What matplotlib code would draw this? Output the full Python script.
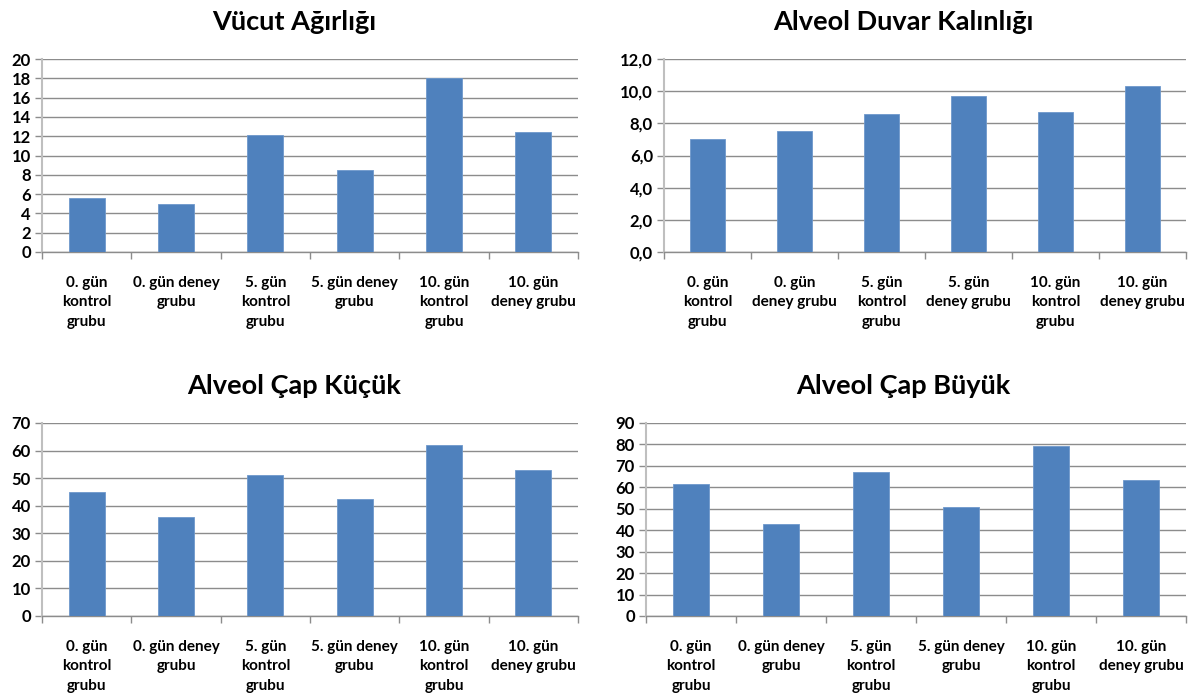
import matplotlib
matplotlib.use("Agg")
import matplotlib.pyplot as plt
from matplotlib.ticker import FixedLocator, FuncFormatter
import numpy as np

plt.rcParams['font.family'] = ['Lato', 'DejaVu Sans']

# ---- data ----
labels_a = ["0. gün\nkontrol\ngrubu", "0. gün deney\ngrubu", "5. gün\nkontrol\ngrubu",
            "5. gün deney\ngrubu", "10. gün\nkontrol\ngrubu", "10. gün\ndeney grubu"]
labels_b = ["0. gün\nkontrol\ngrubu", "0. gün\ndeney grubu", "5. gün\nkontrol\ngrubu",
            "5. gün\ndeney grubu", "10. gün\nkontrol\ngrubu", "10. gün\ndeney grubu"]

titles = ["Vücut Ağırlığı", "Alveol Duvar Kalınlığı", "Alveol Çap Küçük", "Alveol Çap Büyük"]

vucut_agirligi = [5.6, 5.0, 12.1, 8.5, 18.0, 12.4]
duvar_kalinligi = [7.0, 7.5, 8.6, 9.7, 8.7, 10.3]
cap_kucuk = [45, 36, 51, 42.5, 62, 53]
cap_buyuk = [61.5, 43, 67, 51, 79.5, 63.5]

y_max = [20, 12, 70, 90]
y_step = [2, 2, 10, 10]
decimal_fmt = [False, True, False, False]

BAR = "#4F81BD"
GRID = "#8C8C8C"
W, H = 1189, 695

fig = plt.figure(figsize=(W / 100, H / 100), dpi=100)

# axes boxes in pixels: left, right, top, bottom
boxes = [(42, 578, 59, 252), (664, 1186, 59, 252), (42, 578, 423, 616), (646, 1186, 423, 616)]
title_pos = [(294, 22), (903, 22), (294, 386), (903, 386)]
series = [vucut_agirligi, duvar_kalinligi, cap_kucuk, cap_buyuk]
label_sets = [labels_a, labels_b, labels_a, labels_a]

for i in range(4):
    l, r, t, b = boxes[i]
    ax = fig.add_axes([l / W, 1 - b / H, (r - l) / W, (b - t) / H])
    x = np.arange(len(series[i]))
    ax.bar(x, series[i], width=0.4, color=BAR, edgecolor="#6E98CC", linewidth=0.6, zorder=3)
    ax.set_xlim(-0.5, len(x) - 0.5)
    ax.set_ylim(0, y_max[i])
    ticks = np.arange(0, y_max[i] + 0.001, y_step[i])
    ax.set_yticks(ticks)
    if decimal_fmt[i]:
        ax.yaxis.set_major_formatter(FuncFormatter(lambda v, p: f"{v:.1f}".replace(".", ",")))
    else:
        ax.yaxis.set_major_formatter(FuncFormatter(lambda v, p: f"{v:.0f}"))
    ax.grid(axis="y", color=GRID, linewidth=1.0, zorder=0)
    ax.set_axisbelow(True)
    for s in ["top", "right"]:
        ax.spines[s].set_visible(False)
    ax.spines["left"].set_color("#BFBFBF")
    ax.spines["left"].set_linewidth(1.5)
    ax.spines["bottom"].set_color(GRID)
    ax.spines["bottom"].set_linewidth(1.0)
    ax.set_xticks(x)
    ax.set_xticklabels(label_sets[i], fontsize=11, fontweight="bold", linespacing=1.5)
    ax.tick_params(axis="x", which="major", length=0, pad=17)
    ax.xaxis.set_minor_locator(FixedLocator(np.arange(-0.5, len(x), 1.0)))
    ax.tick_params(axis="x", which="minor", length=5, color=GRID, width=1)
    ax.tick_params(axis="y", length=5, color=GRID, width=1, pad=3, labelsize=12)
    for lab in ax.get_yticklabels():
        lab.set_fontweight("bold")
    tx, ty = title_pos[i]
    fig.text(tx / W, 1 - ty / H, titles[i], ha="center", va="center",
             fontsize=19.5, fontweight="bold")

fig.savefig("out.png", dpi=100)
